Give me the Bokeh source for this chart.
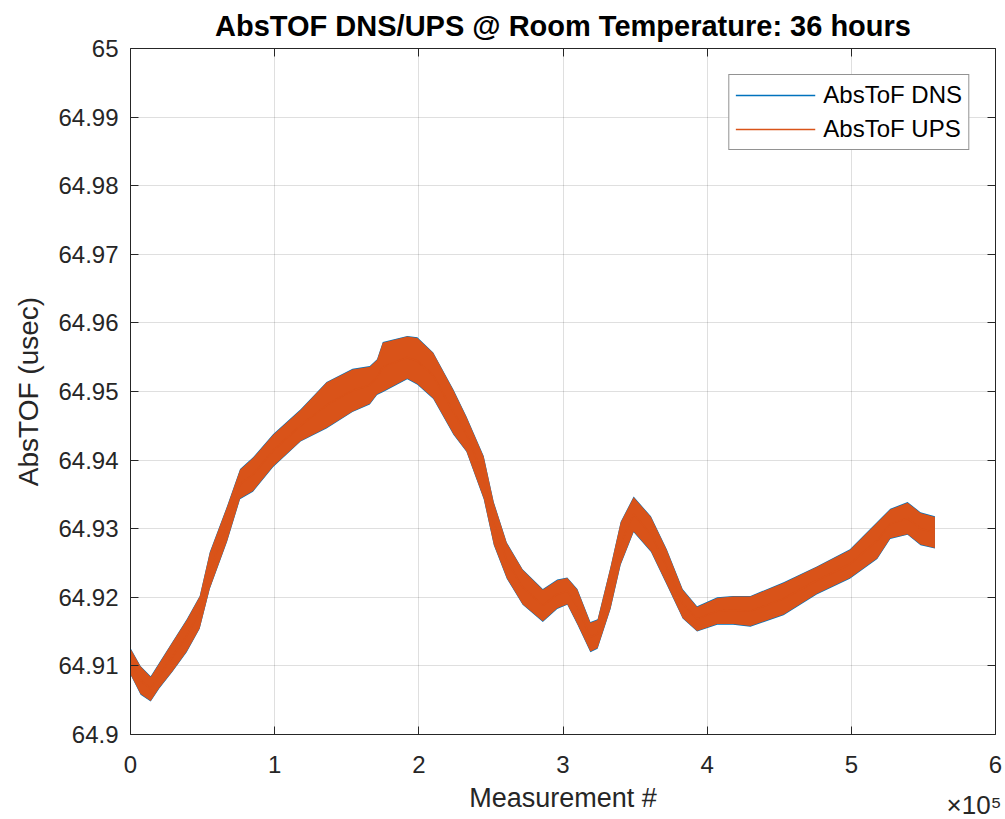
import numpy as np
from bokeh.plotting import figure
from bokeh.models import (Range1d, LinearAxis, Legend, LegendItem, Title,
                          FixedTicker, PrintfTickFormatter)
from bokeh.embed import file_html
from bokeh.resources import INLINE

# ---- data (measurement number in units of 1e5, AbsTOF in usec) ----
measurement_e5 = [0.00, 0.07, 0.14, 0.20, 0.29, 0.39, 0.48, 0.55, 0.67, 0.76,
                  0.85, 0.99, 1.18, 1.36, 1.54, 1.66, 1.71, 1.75, 1.92, 1.99,
                  2.10, 2.24, 2.33, 2.45, 2.52, 2.61, 2.72, 2.86, 2.96, 3.03,
                  3.10, 3.19, 3.24, 3.33, 3.40, 3.49, 3.61, 3.72, 3.83, 3.93,
                  4.07, 4.18, 4.30, 4.53, 4.76, 4.99, 5.18, 5.27, 5.39, 5.48,
                  5.58]

dns_low = [64.9087, 64.9058, 64.9048, 64.9067, 64.9091, 64.9120, 64.9154, 64.9212, 64.9281, 64.9343,
           64.9354, 64.9390, 64.9427, 64.9446, 64.9470, 64.9481, 64.9495, 64.9499, 64.9518, 64.9510,
           64.9489, 64.9437, 64.9412, 64.9343, 64.9276, 64.9227, 64.9189, 64.9164, 64.9183, 64.9189,
           64.9160, 64.9120, 64.9125, 64.9183, 64.9247, 64.9295, 64.9266, 64.9218, 64.9169, 64.9150,
           64.9160, 64.9160, 64.9157, 64.9174, 64.9204, 64.9227, 64.9256, 64.9285, 64.9291, 64.9276,
           64.9271]
dns_high = [64.9126, 64.9100, 64.9085, 64.9105, 64.9135, 64.9168, 64.9202, 64.9266, 64.9333, 64.9387,
            64.9404, 64.9438, 64.9474, 64.9514, 64.9533, 64.9537, 64.9547, 64.9572, 64.9581, 64.9579,
            64.9557, 64.9503, 64.9464, 64.9406, 64.9339, 64.9280, 64.9241, 64.9212, 64.9226, 64.9229,
            64.9212, 64.9164, 64.9168, 64.9245, 64.9310, 64.9347, 64.9318, 64.9270, 64.9212, 64.9187,
            64.9200, 64.9202, 64.9202, 64.9222, 64.9245, 64.9270, 64.9310, 64.9329, 64.9339, 64.9324,
            64.9318]

ups_low = [64.9088, 64.9059, 64.9049, 64.9068, 64.9092, 64.9121, 64.9155, 64.9213, 64.9282, 64.9344,
           64.9355, 64.9391, 64.9428, 64.9447, 64.9471, 64.9482, 64.9496, 64.9500, 64.9519, 64.9511,
           64.9490, 64.9438, 64.9413, 64.9344, 64.9277, 64.9228, 64.9190, 64.9165, 64.9184, 64.9190,
           64.9161, 64.9121, 64.9126, 64.9184, 64.9248, 64.9296, 64.9267, 64.9219, 64.9170, 64.9151,
           64.9161, 64.9161, 64.9158, 64.9175, 64.9205, 64.9228, 64.9257, 64.9286, 64.9292, 64.9277,
           64.9272]
ups_high = [64.9125, 64.9099, 64.9084, 64.9104, 64.9134, 64.9167, 64.9201, 64.9265, 64.9332, 64.9386,
            64.9403, 64.9437, 64.9473, 64.9513, 64.9532, 64.9536, 64.9546, 64.9571, 64.9580, 64.9578,
            64.9556, 64.9502, 64.9463, 64.9405, 64.9338, 64.9279, 64.9240, 64.9211, 64.9225, 64.9228,
            64.9211, 64.9163, 64.9167, 64.9244, 64.9309, 64.9346, 64.9317, 64.9269, 64.9211, 64.9186,
            64.9199, 64.9201, 64.9201, 64.9221, 64.9244, 64.9269, 64.9309, 64.9328, 64.9338, 64.9323,
            64.9317]

x_ticks = [0, 1, 2, 3, 4, 5, 6]
y_ticks = [64.9, 64.91, 64.92, 64.93, 64.94, 64.95, 64.96, 64.97, 64.98, 64.99, 65.0]

title_text = "AbsTOF DNS/UPS @ Room Temperature: 36 hours"
x_label = "Measurement #"
x_multiplier = "\u00d710\u2075"
y_label = "AbsTOF (usec)"
series_names = ["AbsToF DNS", "AbsToF UPS"]

# ---- style ----
FONT = "Liberation Sans"
AX = "#262626"
BLUE = "#0072BD"
ORANGE = "#D95319"

p = figure(width=1005, height=819, output_backend="svg", toolbar_location=None,
           x_range=Range1d(0, 6), y_range=Range1d(64.9, 65.0),
           min_border_left=130, min_border_right=10, min_border_top=48,
           min_border_bottom=85, background_fill_color="white",
           border_fill_color="white", outline_line_color=None)

x = np.array(measurement_e5)
dns_mid = (np.array(dns_low) + np.array(dns_high)) / 2
ups_mid = (np.array(ups_low) + np.array(ups_high)) / 2

p.varea(x=x, y1=dns_low, y2=dns_high, fill_color=BLUE)
l_dns = p.line(x, dns_mid, line_color=BLUE, line_width=1.5)
p.varea(x=x, y1=ups_low, y2=ups_high, fill_color=ORANGE)
l_ups = p.line(x, ups_mid, line_color=ORANGE, line_width=1.5)

# grid
p.xgrid.ticker = FixedTicker(ticks=x_ticks)
p.ygrid.ticker = FixedTicker(ticks=y_ticks)
p.grid.grid_line_color = AX
p.grid.grid_line_alpha = 0.15
p.grid.grid_line_width = 1


def style_axis(ax, labels=True):
    ax.axis_line_color = AX
    ax.axis_line_width = 1
    ax.major_tick_line_color = AX
    ax.major_tick_in = 8
    ax.major_tick_out = 0
    ax.minor_tick_line_color = None
    ax.major_label_text_font = FONT
    if labels:
        ax.major_label_text_color = AX
        ax.major_label_text_font_size = "24px"
        ax.axis_label_text_font = FONT
        ax.axis_label_text_font_size = "27px"
        ax.axis_label_text_font_style = "normal"
        ax.axis_label_text_color = AX
    else:
        # box-style axis: tick marks only, no labels drawn
        ax.major_label_text_color = None
        ax.major_label_text_font_size = "1px"
        ax.major_label_standoff = 0


xa = p.xaxis[0]
xa.ticker = FixedTicker(ticks=x_ticks)
xa.formatter = PrintfTickFormatter(format="%g")
xa.axis_label = x_label
style_axis(xa)
xa.major_label_standoff = 21
xa.axis_label_standoff = 7

ya = p.yaxis[0]
ya.ticker = FixedTicker(ticks=y_ticks)
ya.formatter = PrintfTickFormatter(format="%g")
ya.axis_label = y_label
style_axis(ya)
ya.axis_label_text_font_size = "28px"
ya.major_label_standoff = 12
ya.axis_label_standoff = 11

top = LinearAxis(ticker=FixedTicker(ticks=x_ticks))
style_axis(top, labels=False)
p.add_layout(top, "above")
right = LinearAxis(ticker=FixedTicker(ticks=y_ticks))
style_axis(right, labels=False)
p.add_layout(right, "right")

# title
p.title.text = title_text
p.title.align = "center"
p.title.text_font = FONT
p.title.text_font_size = "29px"
p.title.text_font_style = "bold"
p.title.text_color = "black"
p.title.standoff = 14

# x10^5 multiplier under the right end of the x axis
p.add_layout(Title(text=x_multiplier, align="right", vertical_align="top",
                   offset=-6, standoff=-52, text_font=FONT,
                   text_font_size="26px", text_font_style="normal",
                   text_color=AX), "below")

# legend
legend = Legend(items=[LegendItem(label=series_names[0], renderers=[l_dns]),
                       LegendItem(label=series_names[1], renderers=[l_ups])],
                location="top_right", margin=26)
legend.glyph_width = 80
legend.glyph_height = 22
legend.label_standoff = 8
legend.padding = 6
legend.spacing = 6
legend.label_text_font = FONT
legend.label_text_font_size = "24px"
legend.label_text_color = "black"
legend.border_line_color = AX
legend.border_line_width = 1
legend.background_fill_color = "white"
legend.background_fill_alpha = 1
p.add_layout(legend)

open("out.html", "w").write(file_html(p, INLINE))
